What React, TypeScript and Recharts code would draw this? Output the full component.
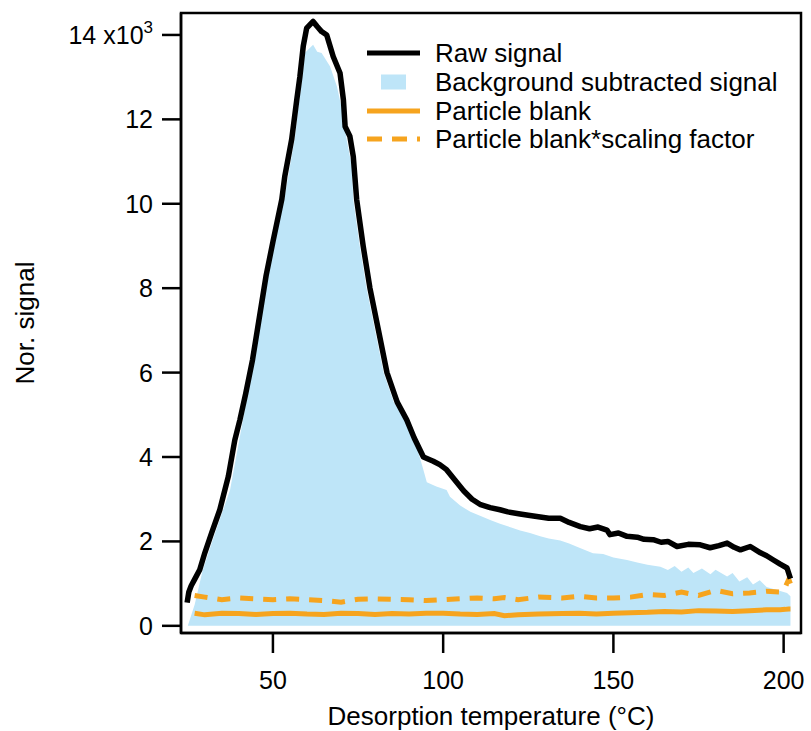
import {
  ComposedChart,
  Area,
  Line,
  XAxis,
  YAxis,
  Label,
  Legend,
  ReferenceArea,
} from 'recharts';

const FONT = "'Liberation Sans', Arial, Helvetica, sans-serif";

const BLUE = '#bee5f8';
const ORANGE = '#f6a41e';

// raw signal (black)
const rawTemp = [
  24.8, 25.3, 26, 27, 28.5, 30, 32, 34.4, 36.9, 38.8, 40.3, 42, 44, 46, 48, 50, 52.6, 53.5, 55.5, 57,
  57.9, 58.9, 59.9, 61.8, 63, 64.3, 65.8, 67.7, 69.7, 70.7, 71.2, 72.6, 73.6, 74.6, 76.5, 78.5, 81,
  83.5, 86.5, 89.3, 91.5, 94.2, 97.1, 99, 101, 103.5, 106, 108.5, 111, 113.8, 116.7, 119, 122.6, 125,
  128.5, 131, 134.4, 137, 140.3, 143, 145.5, 148.1, 149, 151.5, 154, 157, 159, 161.7, 164, 166, 168.7,
  172, 175.5, 178.4, 181, 183.4, 185.5, 187.3, 190.2, 193.2, 195, 197, 199, 201, 202,
];
const rawSignal = [
  0.55, 0.8, 0.95, 1.1, 1.33, 1.73, 2.2, 2.75, 3.54, 4.4, 4.88, 5.5, 6.3, 7.3, 8.3, 9.1, 10.1, 10.66,
  11.52, 12.46, 13.0, 13.73, 14.16, 14.32, 14.2, 14.08, 14.0, 13.49, 13.1, 12.46, 11.83, 11.6, 11.12,
  10.1, 9.0, 8.0, 7.0, 6.0, 5.3, 4.88, 4.45, 4.0, 3.9, 3.82, 3.7, 3.45, 3.2, 3.0, 2.87, 2.8, 2.75,
  2.7, 2.65, 2.62, 2.58, 2.55, 2.55, 2.45, 2.35, 2.3, 2.34, 2.27, 2.16, 2.2, 2.12, 2.1, 2.05, 2.04,
  1.98, 2.0, 1.88, 1.93, 1.92, 1.85, 1.9, 1.96, 1.86, 1.8, 1.88, 1.73, 1.66, 1.56, 1.46, 1.37, 1.12,
];

// background subtracted signal (blue area)
const bgTemp = [
  25, 27, 29.4, 33, 37.4, 41.2, 42.5, 44.5, 46.5, 48.5, 50.5, 53.3, 54.5, 56.5, 57.5, 58.4, 59.4, 61.8,
  63, 64.3, 66.8, 68.8, 70.3, 71.7, 73.2, 73.6, 75.5, 77.5, 80, 82.5, 85.5, 89, 92, 94, 95.2, 98, 101,
  102, 105, 108, 111, 114, 116.7, 120, 122.6, 125.5, 128.5, 131, 134.4, 137, 140, 144, 147, 150, 154,
  157, 160, 163.8, 166, 168, 170, 172, 173.5, 176, 178.5, 180, 183.4, 185, 187, 189.3, 191, 193, 195,
  198, 201, 202,
];
const bgSignal = [
  0, 0.5, 1.33, 2.2, 3.22, 4.88, 5.5, 6.3, 7.3, 8.3, 9.1, 10.1, 10.66, 11.6, 12.3, 12.86, 13.58, 13.77,
  13.6, 13.57, 13.25, 12.78, 12.23, 11.5, 10.88, 10.1, 9.0, 8.0, 7.0, 6.0, 5.3, 4.85, 4.3, 3.75, 3.4,
  3.3, 3.22, 3.06, 2.85, 2.7, 2.6, 2.5, 2.42, 2.33, 2.26, 2.2, 2.12, 2.07, 2.02, 1.95, 1.85, 1.72, 1.7,
  1.62, 1.56, 1.5, 1.45, 1.4, 1.32, 1.42, 1.28, 1.38, 1.25, 1.36, 1.22, 1.33, 1.17, 1.25, 1.05, 1.15,
  0.98, 1.08, 0.92, 0.85, 0.78, 0.7,
];

// particle blank (orange solid / dashed)
const blankTemp = [
  27, 30, 35, 40, 45, 50, 55, 60, 65, 70, 75, 80, 85, 90, 95, 100, 105, 110, 115, 118, 122, 128, 135,
  140, 145, 150, 155, 160, 165, 170, 175, 180, 185, 190, 195, 199, 200.5, 201.5, 202,
];
const blankSignal = [
  0.3, 0.26, 0.3, 0.29, 0.27, 0.29, 0.3, 0.28, 0.27, 0.3, 0.29, 0.27, 0.29, 0.28, 0.3, 0.3, 0.28,
  0.27, 0.29, 0.24, 0.26, 0.28, 0.29, 0.3, 0.28, 0.3, 0.31, 0.32, 0.34, 0.33, 0.36, 0.35, 0.34, 0.36,
  0.38, 0.38, 0.39, 0.4, 0.4,
];
const blankScaled = [
  0.72, 0.68, 0.62, 0.66, 0.64, 0.62, 0.64, 0.62, 0.6, 0.56, 0.63, 0.64, 0.63, 0.62, 0.6, 0.62, 0.64,
  0.66, 0.64, 0.67, 0.62, 0.68, 0.66, 0.7, 0.66, 0.66, 0.68, 0.74, 0.72, 0.8, 0.72, 0.84, 0.76, 0.78,
  0.82, 0.8, 0.92, 1.1, 1.0,
];

const xTicks = [50, 100, 150, 200];
const yTicks = [0, 2, 4, 6, 8, 10, 12, 14];

function buildRows() {
  const rows = new Map<number, Record<string, number>>();
  const put = (ts: number[], vs: number[], key: string) => {
    ts.forEach((t, i) => {
      const r = rows.get(t) ?? { t };
      r[key] = vs[i];
      rows.set(t, r);
    });
  };
  put(rawTemp, rawSignal, 'raw');
  put(bgTemp, bgSignal, 'bg');
  put(blankTemp, blankSignal, 'blank');
  put(blankTemp, blankScaled, 'scaled');
  return [...rows.values()].sort((a, b) => a.t - b.t);
}

const data = buildRows();

function YTick({ x, y, payload }: any) {
  if (payload.value === 14) {
    return (
      <text x={x} y={y} dy={9} textAnchor="end" fontSize={25} fontFamily={FONT} fill="#000">
        <tspan>14 x10</tspan>
        <tspan dy={-11} fontSize={17}>3</tspan>
      </text>
    );
  }
  return (
    <text x={x} y={y} dy={9} textAnchor="end" fontSize={25} fontFamily={FONT} fill="#000">
      {payload.value}
    </text>
  );
}

function LegendBox() {
  const row = { display: 'flex', alignItems: 'center', height: 28.7 } as const;
  const swatch = { width: 53, height: 16, marginRight: 15 } as const;
  return (
    <div style={{ fontFamily: FONT, fontSize: 26, color: '#000', lineHeight: '28px' }}>
      <div style={row}>
        <svg style={swatch}><line x1={0} x2={53} y1={8} y2={8} stroke="#000" strokeWidth={5} /></svg>
        Raw signal
      </div>
      <div style={row}>
        <svg style={swatch}><rect x={14} y={0.5} width={25} height={15} fill={BLUE} /></svg>
        Background subtracted signal
      </div>
      <div style={row}>
        <svg style={swatch}><line x1={0} x2={53} y1={8} y2={8} stroke={ORANGE} strokeWidth={5} /></svg>
        Particle blank
      </div>
      <div style={row}>
        <svg style={swatch}>
          <line x1={0} x2={53} y1={8} y2={8} stroke={ORANGE} strokeWidth={5} strokeDasharray="15 10" />
        </svg>
        Particle blank*scaling factor
      </div>
    </div>
  );
}

export default function App() {
  return (
    <div style={{ position: 'absolute', left: 0, top: 0, width: 811, height: 731, background: '#fff' }}>
      <ComposedChart
        width={811}
        height={731}
        data={data}
        margin={{ top: 13, right: 10, left: 0, bottom: 0 }}
      >
        <XAxis
          dataKey="t"
          type="number"
          domain={[23, 205.1]}
          allowDataOverflow
          ticks={xTicks}
          height={98}
          tickSize={20}
          tickMargin={18}
          stroke="#000"
          strokeWidth={2.5}
          tick={{ fill: '#000', fontSize: 25, fontFamily: FONT }}
        >
          <Label
            value="Desorption temperature (°C)"
            position="insideBottom"
            offset={6}
            style={{ fill: '#000', fontSize: 26, fontFamily: FONT }}
          />
        </XAxis>
        <YAxis
          type="number"
          domain={[-0.17, 14.52]}
          allowDataOverflow
          ticks={yTicks}
          width={181}
          tickSize={19}
          tickMargin={9}
          stroke="#000"
          strokeWidth={2.5}
          tick={<YTick />}
        >
          <Label
            content={() => (
              <text
                transform="translate(34, 323) rotate(-90)"
                textAnchor="middle"
                fontSize={26}
                fontFamily={FONT}
                fill="#000"
              >
                Nor. signal
              </text>
            )}
          />
        </YAxis>
        <Legend
          layout="vertical"
          align="center"
          verticalAlign="middle"
          content={() => <LegendBox />}
          wrapperStyle={{ left: 367, top: 39, width: 430 }}
        />
        <Area
          dataKey="bg"
          type="linear"
          fill={BLUE}
          fillOpacity={1}
          stroke="none"
          baseValue={0}
          connectNulls
          isAnimationActive={false}
        />
        <Line
          dataKey="blank"
          type="linear"
          stroke={ORANGE}
          strokeWidth={5}
          dot={false}
          connectNulls
          isAnimationActive={false}
        />
        <Line
          dataKey="scaled"
          type="linear"
          stroke={ORANGE}
          strokeWidth={5}
          strokeDasharray="13 10"
          dot={false}
          connectNulls
          isAnimationActive={false}
        />
        <Line
          dataKey="raw"
          type="linear"
          stroke="#000"
          strokeWidth={5.5}
          strokeLinejoin="round"
          dot={false}
          connectNulls
          isAnimationActive={false}
        />
        <ReferenceArea
          x1={23}
          x2={205.1}
          y1={-0.17}
          y2={14.52}
          fill="none"
          stroke="#000"
          strokeWidth={2.5}
        />
      </ComposedChart>
    </div>
  );
}
